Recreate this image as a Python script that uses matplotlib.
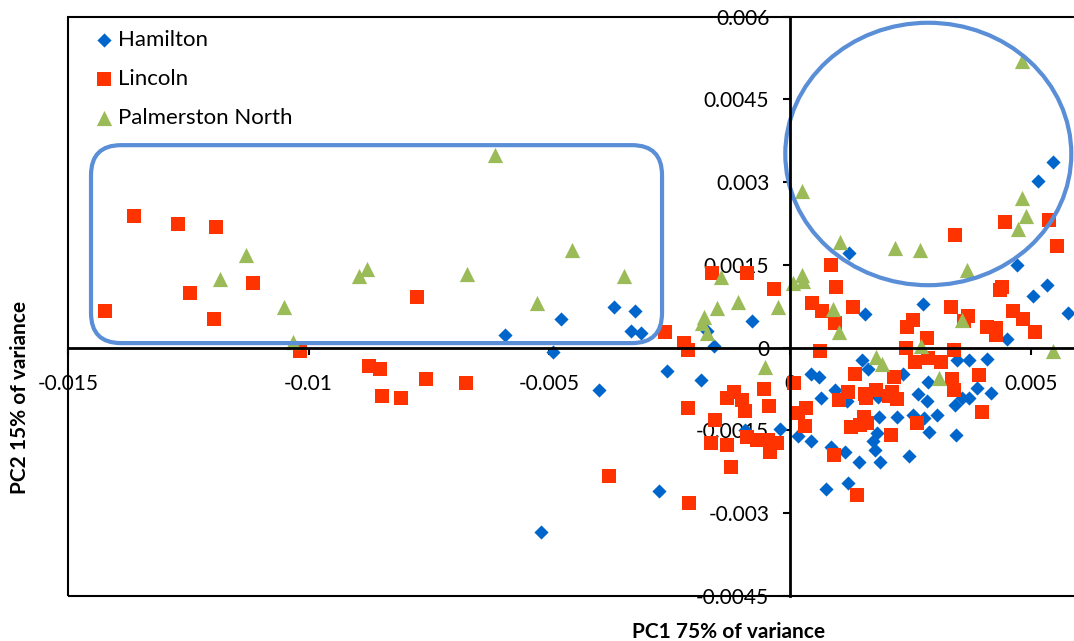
import numpy as np
import matplotlib
matplotlib.use("Agg")
import matplotlib.pyplot as plt
from matplotlib.patches import Ellipse, FancyBboxPatch, Rectangle
from matplotlib.ticker import FixedLocator, FixedFormatter

# ---------------- data ----------------
hamilton_x = [-0.00592, -0.00476, -0.00366, -0.00322, -0.00330, -0.00310, -0.00492, -0.00256,
              -0.00397, -0.00185, -0.00272, -0.00158, -0.00172, -0.00079, -0.00094, -0.00021,
              0.00017, 0.00123, 0.00472, 0.00534, 0.00505, 0.00578, 0.00276, 0.00156,
              0.00451, 0.00150, 0.00162, 0.00347, 0.00372, 0.00409, 0.00287, 0.00235,
              0.00044, 0.00060, 0.00094, 0.00266, 0.00389, 0.00418, 0.00064, 0.00118,
              0.00183, 0.00285, 0.00343, 0.00357, 0.00372, 0.00044, 0.00185, 0.00222,
              0.00256, 0.00278, 0.00305, 0.00289, 0.00345, 0.00181, 0.00172, 0.00177,
              0.00187, 0.00085, 0.00114, 0.00143, 0.00247, 0.00075, 0.00121, 0.00546,
              0.00515, -0.00517]
hamilton_y = [0.00023, 0.00052, 0.00074, 0.00066, 0.00030, 0.00026, -0.00008, -0.00043,
              -0.00077, -0.00059, -0.00260, 0.00003, 0.00030, 0.00048, -0.00150, -0.00148,
              -0.00161, 0.00171, 0.00150, 0.00113, 0.00093, 0.00063, 0.00079, 0.00061,
              0.00015, -0.00023, -0.00039, -0.00023, -0.00023, -0.00021, -0.00063, -0.00048,
              -0.00048, -0.00054, -0.00077, -0.00084, -0.00074, -0.00083, -0.00092, -0.00097,
              -0.00090, -0.00097, -0.00104, -0.00092, -0.00092, -0.00170, -0.00126, -0.00126,
              -0.00122, -0.00128, -0.00122, -0.00153, -0.00159, -0.00155, -0.00170, -0.00186,
              -0.00208, -0.00181, -0.00190, -0.00208, -0.00197, -0.00257, -0.00246, 0.00337,
              0.00302, -0.00335]

lincoln_x = [-0.01363, -0.01271, -0.01192, -0.01116, -0.01246, -0.01423, -0.01197, -0.00775,
             -0.01018, -0.00875, -0.00852, -0.00848, -0.00808, -0.00756, -0.00673, -0.00260,
             -0.00220, -0.00212, -0.00212, -0.00162, -0.00089, -0.00033, -0.00376, -0.00210,
             -0.00054, -0.00044, -0.00131, -0.00116, -0.00100, -0.00094, -0.00156, -0.00164,
             -0.00131, -0.00123, -0.00089, -0.00069, -0.00046, -0.00042, -0.00027, 0.00008,
             0.00017, 0.00033, 0.00031, 0.00085, 0.00096, 0.00046, 0.00067, 0.00094,
             0.00131, 0.00343, 0.00447, 0.00538, 0.00555, 0.00440, 0.00436, 0.00334,
             0.00370, 0.00361, 0.00256, 0.00243, 0.00285, 0.00463, 0.00484, 0.00409,
             0.00428, 0.00428, 0.00509, 0.00062, 0.00241, 0.00260, 0.00287, 0.00314,
             0.00341, 0.00393, 0.00135, 0.00216, 0.00337, 0.00341, 0.00121, 0.00179,
             0.00212, 0.00156, 0.00102, 0.00158, 0.00206, 0.00222, 0.00399, 0.00154,
             0.00160, 0.00127, 0.00145, 0.00264, 0.00210, 0.00091, 0.00139]
lincoln_y = [0.00239, 0.00224, 0.00219, 0.00117, 0.00099, 0.00066, 0.00052, 0.00092,
             -0.00006, -0.00034, -0.00039, -0.00088, -0.00092, -0.00057, -0.00064, 0.00028,
             0.00008, -0.00005, -0.00110, 0.00135, 0.00135, 0.00106, -0.00233, -0.00282,
             -0.00075, -0.00106, -0.00092, -0.00081, -0.00095, -0.00115, -0.00132, -0.00173,
             -0.00177, -0.00217, -0.00162, -0.00168, -0.00168, -0.00190, -0.00173, -0.00064,
             -0.00119, -0.00110, -0.00142, 0.00150, 0.00110, 0.00081, 0.00066, 0.00044,
             0.00074, 0.00204, 0.00228, 0.00231, 0.00184, 0.00110, 0.00104, 0.00074,
             0.00057, 0.00048, 0.00050, 0.00037, 0.00017, 0.00066, 0.00052, 0.00037,
             0.00035, 0.00023, 0.00028, -0.00006, -0.00001, -0.00026, -0.00019, -0.00026,
             -0.00005, -0.00050, -0.00048, -0.00054, -0.00057, -0.00077, -0.00081, -0.00077,
             -0.00081, -0.00084, -0.00095, -0.00092, -0.00088, -0.00093, -0.00117, -0.00126,
             -0.00137, -0.00144, -0.00141, -0.00137, -0.00159, -0.00195, -0.00268]

palmerston_x = [-0.01130, -0.01184, -0.01051, -0.01032, -0.00895, -0.00879, -0.00613, -0.00453,
                -0.00671, -0.00345, -0.00526, -0.00179, -0.00183, -0.00172, -0.00143, -0.00152,
                -0.00108, -0.00025, 0.00006, -0.00052, 0.00104, 0.00218, 0.00270, 0.00368,
                0.00482, 0.00490, 0.00474, 0.00025, 0.00027, 0.00089, 0.00102, 0.00357,
                0.00272, 0.00179, 0.00191, 0.00310, 0.00546, 0.00482, 0.00025]
palmerston_y = [0.00168, 0.00124, 0.00074, 0.00010, 0.00130, 0.00142, 0.00349, 0.00177,
                0.00133, 0.00130, 0.00081, 0.00055, 0.00044, 0.00026, 0.00128, 0.00072,
                0.00083, 0.00074, 0.00117, -0.00035, 0.00191, 0.00181, 0.00177, 0.00141,
                0.00271, 0.00239, 0.00215, 0.00132, 0.00121, 0.00070, 0.00028, 0.00050,
                0.00003, -0.00017, -0.00030, -0.00055, -0.00006, 0.00520, 0.00284]

series_names = ["Hamilton", "Lincoln", "Palmerston North"]

x_ticks = [-0.015, -0.01, -0.005, 0, 0.005]
x_tick_labels = ["-0.015", "-0.01", "-0.005", "0", "0.005"]
y_ticks = [-0.0045, -0.003, -0.0015, 0, 0.0015, 0.003, 0.0045, 0.006]
y_tick_labels = ["-0.0045", "-0.003", "-0.0015", "0", "0.0015", "0.003", "0.0045", "0.006"]

# highlight shapes (data coordinates)
box_x0, box_x1, box_y0, box_y1 = -0.01452, -0.00266, 0.00008, 0.00367
ell_cx, ell_cy, ell_w, ell_h = 0.00287, 0.00351, 0.00594, 0.00476

# ---------------- figure ----------------
W, H, DPI = 1074, 641, 100
plt.rcParams['font.family'] = ['Lato', 'DejaVu Sans']
fig = plt.figure(figsize=(W / DPI, H / DPI), dpi=DPI)
ax = fig.add_axes([67.9 / W, 1 - 595.6 / H, (1079 - 67.9) / W, (595.6 - 16.7) / H])
ax.set_xlim(-0.015, 0.006)
ax.set_ylim(-0.0045, 0.006)

c_ham, c_lin, c_pal = '#0066CC', '#FF3300', '#9BBB59'
ax.scatter(hamilton_x, hamilton_y, marker='D', s=52, color=c_ham, linewidths=0, label=series_names[0], zorder=3)
ax.scatter(lincoln_x, lincoln_y, marker='s', s=100, color=c_lin, linewidths=0, label=series_names[1], zorder=3)
ax.scatter(palmerston_x, palmerston_y, marker='^', s=120, color=c_pal, linewidths=0, label=series_names[2], zorder=3)

# axes through zero
for s in ['top', 'right']:
    ax.spines[s].set_visible(False)
ax.spines['left'].set_position(('data', 0))
ax.spines['bottom'].set_position(('data', 0))
ax.spines['left'].set_linewidth(2)
ax.spines['bottom'].set_linewidth(2)
ax.spines['left'].set_zorder(4)
ax.spines['bottom'].set_zorder(4)

ax.xaxis.set_major_locator(FixedLocator(x_ticks))
ax.xaxis.set_major_formatter(FixedFormatter(x_tick_labels))
ax.yaxis.set_major_locator(FixedLocator(y_ticks))
ax.yaxis.set_major_formatter(FixedFormatter(y_tick_labels))
ax.tick_params(axis='both', direction='out', length=5, width=1.5, labelsize=15, pad=10)
ax.tick_params(axis='x', pad=14)

# plot-area border
ax.add_patch(Rectangle((0, 0), 1, 1, transform=ax.transAxes, fill=False, lw=1.5,
                       edgecolor='black', clip_on=False, zorder=5))

# highlight shapes
fig.canvas.draw()
(px0, py0) = ax.transData.transform((box_x0, box_y0))
(px1, py1) = ax.transData.transform((box_x1, box_y1))
rb = FancyBboxPatch((px0, py0), px1 - px0, py1 - py0, boxstyle='round,pad=0,rounding_size=30',
                    transform=None, fill=False, edgecolor='#5A8ED6', lw=3, zorder=4)
ax.add_artist(rb)
ax.add_patch(Ellipse((ell_cx, ell_cy), ell_w, ell_h, fill=False, edgecolor='#5A8ED6', lw=3, zorder=4))

leg = ax.legend(loc='upper left', bbox_to_anchor=(0.02, 0.992), frameon=False, fontsize=16,
                handlelength=0.6, handletextpad=0.35, labelspacing=0.85, borderaxespad=0)

fig.text(729 / W, 1 - 632 / H, 'PC1 75% of variance', ha='center', va='center',
         fontsize=15, fontweight='bold')
fig.text(20 / W, 1 - 397 / H, 'PC2 15% of variance', ha='center', va='center',
         rotation=90, fontsize=15, fontweight='bold')

fig.savefig('out.png', dpi=DPI)
